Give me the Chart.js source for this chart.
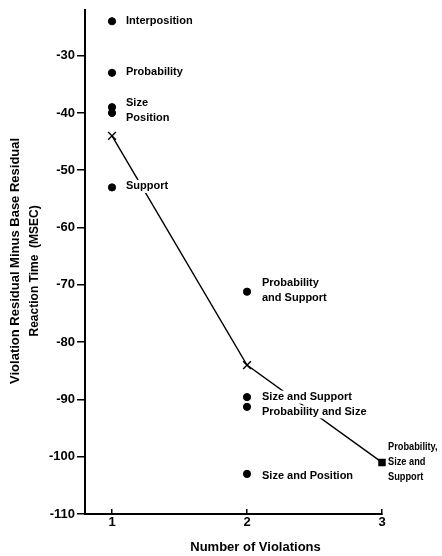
<!DOCTYPE html>
<html><head><meta charset="utf-8">
<script src="https://cdn.jsdelivr.net/npm/chart.js@4.4.0/dist/chart.umd.min.js"></script>
<style>html,body{margin:0;padding:0;background:#fff;} canvas{display:block;}</style>
</head><body>
<canvas id="c" width="442" height="556"></canvas>
<script>
// ---- data ----
const violationCounts = [1, 1, 1, 1, 1, 2, 2, 2, 2];
const violationValues = [-24, -33, -39, -40, -53, -71.2, -89.6, -91.3, -103];
const violationNames = [['Interposition'], ['Probability'], ['Size'], ['Position'], ['Support'],
  ['Probability', 'and Support'], ['Size and Support'], ['Probability and Size'], ['Size and Position']];
const meanCounts = [1, 2, 3];
const meanValues = [-44, -84, -101];
const meanNames = [null, null, ['Probability,', 'Size and', 'Support']];
const xTicks = [1, 2, 3];
const yTicks = [-110, -100, -90, -80, -70, -60, -50, -40, -30];
const xTitle = 'Number of Violations';
const yTitle = ['Violation Residual Minus Base Residual', 'Reaction Time  (MSEC)'];

// ---- label placement (pixels) ----
const labelOffsets = [
  {dx: 14, dy: [0]}, {dx: 14, dy: [-1]}, {dx: 14, dy: [-4]}, {dx: 14, dy: [5]}, {dx: 14, dy: [-1]},
  {dx: 15, dy: [-9, 6]}, {dx: 15, dy: [0]}, {dx: 15, dy: [5]}, {dx: 15, dy: [2]}
];
const meanLabelOffsets = [null, null, {dx: 6, dy: [-15, 0, 15], size: 11, squeeze: 0.84}];

const FONT = '"Liberation Sans", Arial, sans-serif';

const labelPlugin = {
  id: 'pointLabels',
  afterDatasetsDraw(chart) {
    const ctx = chart.ctx, xs = chart.scales.x, ys = chart.scales.y;
    ctx.save();
    ctx.textBaseline = 'middle';
    ctx.textAlign = 'left';
    const draw = (xv, yv, lines, off, box) => {
      ctx.font = 'bold ' + (off.size || 11) + 'px ' + FONT;
      const sq = off.squeeze || 1;
      const px = xs.getPixelForValue(xv) + off.dx;
      const py = ys.getPixelForValue(yv);
      lines.forEach((t, i) => {
        const ly = py + off.dy[i];
        const w = ctx.measureText(t).width * sq;
        if (box) { ctx.fillStyle = '#fff'; ctx.fillRect(px - 1, ly - 6.5, w + 2, 13); }
        ctx.fillStyle = '#000';
        ctx.save();
        ctx.translate(px, ly);
        ctx.scale(sq, 1);
        ctx.fillText(t, 0, 0);
        ctx.restore();
      });
    };
    violationNames.forEach((lines, i) => draw(violationCounts[i], violationValues[i], lines, labelOffsets[i], true));
    meanNames.forEach((lines, i) => { if (lines) draw(meanCounts[i], meanValues[i], lines, meanLabelOffsets[i], false); });
    ctx.restore();
  }
};

const titlePlugin = {
  id: 'axisTitles',
  afterDraw(chart) {
    const ctx = chart.ctx, xs = chart.scales.x, ys = chart.scales.y;
    ctx.save();
    ctx.fillStyle = '#000';
    ctx.textAlign = 'center';
    ctx.textBaseline = 'middle';
    ctx.font = 'bold 13px ' + FONT;
    ctx.fillText(xTitle, (xs.left + xs.right) / 2 + 22, xs.bottom - 9);
    const cy = (ys.top + ys.bottom) / 2;
    [[15, cy - 1, 13], [35, cy + 9, 12]].forEach(([x, y, size], i) => {
      ctx.save();
      ctx.translate(x, y);
      ctx.rotate(-Math.PI / 2);
      ctx.font = 'bold ' + size + 'px ' + FONT;
      ctx.fillText(yTitle[i], 0, 0);
      ctx.restore();
    });
    ctx.restore();
  }
};

new Chart(document.getElementById('c'), {
  type: 'scatter',
  data: {
    datasets: [
      {
        label: 'Mean',
        type: 'line',
        data: meanCounts.map((x, i) => ({x, y: meanValues[i]})),
        showLine: true,
        borderColor: '#000',
        borderWidth: 1.4,
        tension: 0,
        fill: false,
        pointStyle: ['crossRot', 'crossRot', 'rect'],
        pointRadius: [5.5, 5.5, 4.3],
        pointBorderWidth: 1.4,
        pointBackgroundColor: '#000',
        pointBorderColor: '#000',
        clip: false
      },
      {
        label: 'Violations',
        data: violationCounts.map((x, i) => ({x, y: violationValues[i]})),
        pointStyle: 'circle',
        pointRadius: 3.6,
        pointBorderWidth: 1,
        pointBackgroundColor: '#000',
        pointBorderColor: '#000',
        clip: false
      }
    ]
  },
  options: {
    responsive: false,
    animation: false,
    layout: {padding: {top: 8, right: 60, bottom: 0, left: 0}},
    plugins: {legend: {display: false}, tooltip: {enabled: false}},
    scales: {
      x: {
        type: 'linear',
        min: 0.8, max: 3,
        afterBuildTicks: s => { s.ticks = xTicks.map(v => ({value: v})); },
        afterFit: s => { s.height = 42; },
        grid: {drawOnChartArea: false, drawTicks: true, tickLength: -5, color: '#000', lineWidth: 1.5},
        border: {color: '#000', width: 2},
        ticks: {color: '#000', font: {family: FONT, size: 13, weight: 'bold'}, padding: 6, maxRotation: 0},
        title: {display: false, text: xTitle}
      },
      y: {
        type: 'linear',
        min: -110, max: -22,
        afterBuildTicks: s => { s.ticks = yTicks.map(v => ({value: v})); },
        afterFit: s => { s.width = 85; },
        grid: {drawOnChartArea: false, drawTicks: true, tickLength: 8, color: '#000', lineWidth: 1.5},
        border: {color: '#000', width: 2},
        ticks: {color: '#000', font: {family: FONT, size: 13, weight: 'bold'}, padding: 2},
        title: {display: false, text: yTitle}
      }
    }
  },
  plugins: [labelPlugin, titlePlugin]
});
</script>
</body></html>
